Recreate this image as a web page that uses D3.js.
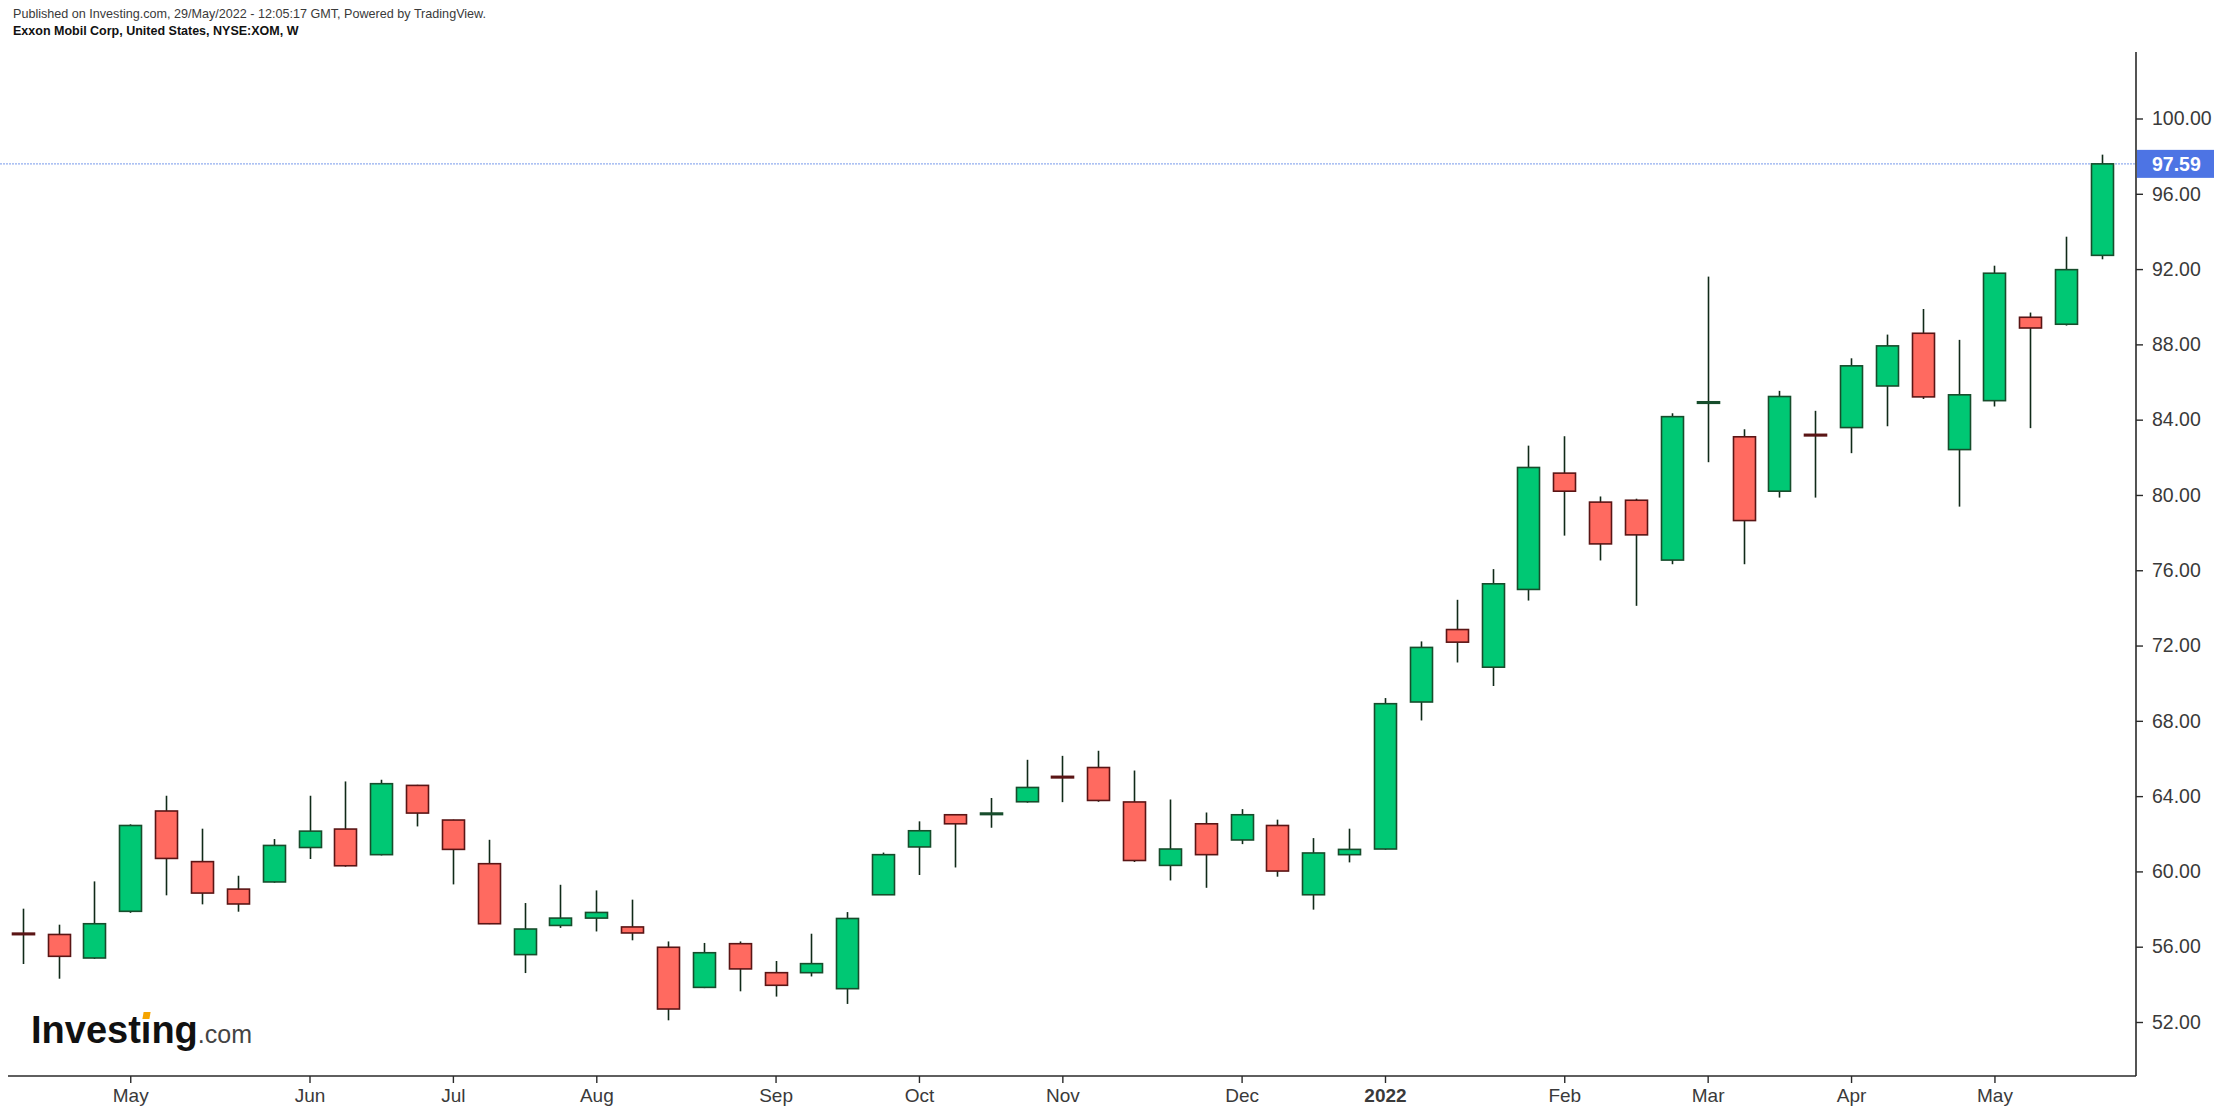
<!DOCTYPE html>
<html><head><meta charset="utf-8">
<script src="https://cdn.jsdelivr.net/npm/d3@7"></script>
<style>
html,body{margin:0;padding:0;background:#fff;}
svg{display:block;font-family:"Liberation Sans",Arial,sans-serif;}
</style></head>
<body>
<svg id="c" width="2223" height="1114"></svg>
<script>
// ---- data ----
const weeks = ["2021-04-12","2021-04-19","2021-04-26","2021-05-03","2021-05-10","2021-05-17","2021-05-24","2021-05-31",
"2021-06-07","2021-06-14","2021-06-21","2021-06-28","2021-07-05","2021-07-12","2021-07-19","2021-07-26",
"2021-08-02","2021-08-09","2021-08-16","2021-08-23","2021-08-30","2021-09-06","2021-09-13","2021-09-20","2021-09-27",
"2021-10-04","2021-10-11","2021-10-18","2021-10-25","2021-11-01","2021-11-08","2021-11-15","2021-11-22","2021-11-29",
"2021-12-06","2021-12-13","2021-12-20","2021-12-27","2022-01-03","2022-01-10","2022-01-17","2022-01-24","2022-01-31",
"2022-02-07","2022-02-14","2022-02-21","2022-02-28","2022-03-07","2022-03-14","2022-03-21","2022-03-28",
"2022-04-04","2022-04-11","2022-04-18","2022-04-25","2022-05-02","2022-05-09","2022-05-16","2022-05-23"];
const open  = [56.72,56.65,55.40,57.88,63.21,60.52,59.06,59.44,61.27,62.25,60.89,64.57,62.73,60.41,55.58,57.13,57.52,57.05,55.97,53.84,56.16,54.62,54.62,53.77,58.76,61.30,63.01,63.02,63.70,65.05,65.52,63.69,60.32,62.53,61.67,62.44,58.76,60.89,61.19,69.00,72.85,70.85,74.98,81.16,79.62,79.72,76.54,84.90,83.09,80.20,83.22,83.58,85.79,88.59,82.41,85.01,89.44,89.07,92.73];
const high  = [58.02,57.17,59.47,62.50,64.02,62.27,59.77,61.72,64.02,64.78,64.87,64.60,62.75,61.68,58.32,59.29,58.99,58.50,56.28,56.20,56.28,55.24,56.69,57.84,61.00,62.66,63.05,63.90,65.93,66.14,66.41,65.36,63.82,63.13,63.31,62.75,61.77,62.27,69.21,72.22,74.43,76.06,82.62,83.12,79.92,79.80,84.34,91.60,83.49,85.53,84.47,87.26,88.52,89.88,88.24,92.18,89.69,93.72,98.08];
const low   = [55.08,54.30,55.35,57.80,58.73,58.25,57.86,59.40,60.66,60.25,60.85,62.39,59.31,57.20,54.60,57.00,56.81,56.34,52.09,53.80,53.63,53.35,54.42,52.96,58.75,59.81,60.21,62.32,63.65,63.68,63.70,60.50,59.52,59.13,61.45,59.72,57.97,60.48,61.15,68.02,71.10,69.85,74.39,77.84,76.52,74.11,76.32,81.74,76.32,79.86,79.86,82.22,83.65,85.10,79.38,84.70,83.55,89.00,92.52];
const close = [56.68,55.49,57.22,62.44,60.69,58.85,58.27,61.38,62.14,60.30,64.66,63.10,61.17,57.22,56.94,57.52,57.82,56.73,52.69,55.68,54.82,53.95,55.10,57.50,60.89,62.16,62.53,63.10,64.46,64.98,63.77,60.58,61.19,60.89,63.01,60.02,60.98,61.17,68.91,71.90,72.18,75.28,81.46,80.20,77.40,77.88,84.16,84.95,78.64,85.23,83.17,86.86,87.92,85.21,85.32,91.78,88.87,91.97,97.59];
const monthTicks = ["2021-05-03","2021-06-07","2021-07-05","2021-08-02","2021-09-06","2021-10-04","2021-11-01","2021-12-06","2022-01-03","2022-02-07","2022-03-07","2022-04-04","2022-05-02"];
const monthLabels = ["May","Jun","Jul","Aug","Sep","Oct","Nov","Dec","2022","Feb","Mar","Apr","May"];
const priceTicks = [52,56,60,64,68,72,76,80,84,88,92,96,100];
const lastPrice = 97.59;
const headerLine1 = "Published on Investing.com, 29/May/2022 - 12:05:17 GMT, Powered by TradingView.";
const headerLine2 = "Exxon Mobil Corp, United States, NYSE:XOM, W";

// ---- layout ----
const plotLeft = 8, plotRight = 2136, plotTop = 52, plotBottom = 1076;
const svg = d3.select("#c");

const x = d3.scalePoint().domain(weeks).range([22.7, 2102]);
const y = d3.scaleLinear().domain([52, 100]).range([1022, 118.5]);
const bodyW = 22;

const up = "#00c874", dn = "#ff6a60";
const upStroke = "#174d2c", dnStroke = "#5a1515";
const wickCol = "#102a18";

// header
svg.append("text").attr("x", 13).attr("y", 18).attr("font-size", 12.6).attr("fill", "#3a3a3a").text(headerLine1);
svg.append("text").attr("x", 13).attr("y", 35).attr("font-size", 12.5).attr("font-weight", "bold").attr("fill", "#111").text(headerLine2);

// last price dotted line
svg.append("line").attr("x1", 0).attr("x2", plotRight).attr("y1", y(lastPrice)).attr("y2", y(lastPrice))
  .attr("stroke", "#93aef0").attr("stroke-width", 1.3).attr("stroke-dasharray", "2,1");

// candles
const data = weeks.map((w, i) => ({w, o: open[i], h: high[i], l: low[i], c: close[i]}));
const g = svg.append("g");
data.forEach(d => {
  const cx = Math.round(x(d.w)) + 0.5;
  const isUp = d.c >= d.o;
  g.append("line").attr("x1", cx).attr("x2", cx).attr("y1", y(d.h)).attr("y2", y(d.l))
    .attr("stroke", wickCol).attr("stroke-width", 1.6);
  const top = y(Math.max(d.o, d.c)), bot = y(Math.min(d.o, d.c));
  const h = Math.max(bot - top, 1.5);
  g.append("rect").attr("x", cx - bodyW / 2).attr("y", top).attr("width", bodyW).attr("height", h)
    .attr("fill", isUp ? up : dn).attr("stroke", isUp ? upStroke : dnStroke).attr("stroke-width", 1.6);
});

// axes lines
svg.append("line").attr("x1", plotRight).attr("x2", plotRight).attr("y1", plotTop).attr("y2", plotBottom)
  .attr("stroke", "#2a2a2a").attr("stroke-width", 1.6);
svg.append("line").attr("x1", plotLeft).attr("x2", plotRight).attr("y1", plotBottom).attr("y2", plotBottom)
  .attr("stroke", "#2a2a2a").attr("stroke-width", 1.6);

// right axis
const yAxis = d3.axisRight(y).tickValues(priceTicks).tickFormat(d => d.toFixed(2)).tickSize(7).tickPadding(9);
const ya = svg.append("g").attr("transform", `translate(${plotRight},0)`).call(yAxis);
ya.select(".domain").remove();
ya.selectAll(".tick line").attr("stroke", "#2a2a2a").attr("stroke-width", 1.4);
ya.selectAll(".tick text").attr("font-size", 19.5).attr("fill", "#3a3a3a").attr("font-family", "'Liberation Sans',Arial,sans-serif");

// bottom axis
const labelMap = new Map(monthTicks.map((m, i) => [m, monthLabels[i]]));
const xAxis = d3.axisBottom(x).tickValues(monthTicks).tickFormat(d => labelMap.get(d)).tickSize(7).tickPadding(6);
const xa = svg.append("g").attr("transform", `translate(0,${plotBottom})`).call(xAxis);
xa.select(".domain").remove();
xa.selectAll(".tick line").attr("stroke", "#2a2a2a").attr("stroke-width", 1.4);
xa.selectAll(".tick text").attr("font-size", 19).attr("fill", "#3a3a3a").attr("font-family", "'Liberation Sans',Arial,sans-serif")
  .attr("font-weight", d => labelMap.get(d) === "2022" ? "bold" : "normal");

// last price label
const ly = y(lastPrice);
svg.append("rect").attr("x", plotRight + 1).attr("y", ly - 14).attr("width", 77).attr("height", 28).attr("fill", "#4d74e4");
svg.append("text").attr("x", plotRight + 16).attr("y", ly).attr("dy", "0.35em").attr("font-size", 19.5)
  .attr("font-weight", "bold").attr("fill", "#fff").text(lastPrice.toFixed(2));

// logo
const logo = svg.append("text").attr("x", 31).attr("y", 1043).attr("font-size", 38).attr("font-weight", "bold").attr("fill", "#111").attr("letter-spacing", 0);
logo.append("tspan").text("Investing");
logo.append("tspan").attr("font-size", 25).attr("font-weight", "normal").attr("fill", "#444").text(".com");
try {
  const ext = logo.node().getExtentOfChar(6);
  svg.append("rect").attr("x", ext.x + 1).attr("y", 1011).attr("width", ext.width - 2).attr("height", 10).attr("fill", "#fff");
  svg.append("rect").attr("x", ext.x + ext.width / 2 - 3).attr("y", 1012).attr("width", 7).attr("height", 7)
    .attr("fill", "#f5a400").attr("transform", `skewX(-10)`).attr("transform-origin", `${ext.x + ext.width/2} 1015`);
} catch (e) {}
</script>
</body></html>
